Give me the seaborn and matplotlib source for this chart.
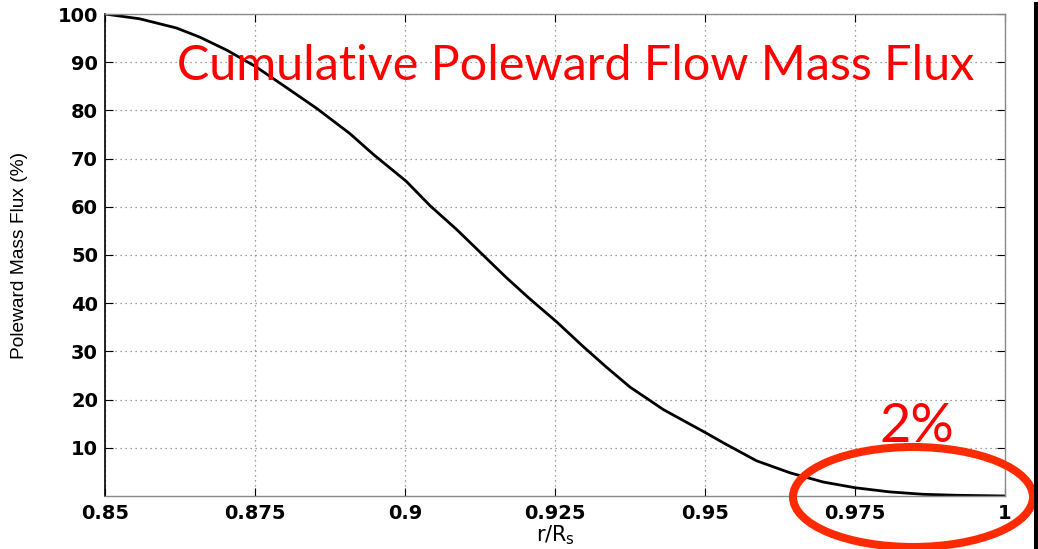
import numpy as np
import pandas as pd
import matplotlib
matplotlib.use("Agg")
import matplotlib.pyplot as plt
import seaborn as sns
from matplotlib import font_manager
from matplotlib.patches import Ellipse, Rectangle

# ---- data ----
r_over_rs = [0.8500, 0.8558, 0.8619, 0.8658, 0.8703, 0.8751, 0.8797, 0.8853,
             0.8908, 0.8947, 0.9002, 0.9042, 0.9086, 0.9125, 0.9169, 0.9208,
             0.9253, 0.9297, 0.9336, 0.9375, 0.9431, 0.9475, 0.9500, 0.9531,
             0.9586, 0.9642, 0.9697, 0.9751, 0.9808, 0.9864, 0.9919, 1.0000]
flux_pct = [100.0, 99.0, 97.1, 95.2, 92.5, 89.1, 85.2, 80.4,
            75.2, 70.9, 65.3, 60.2, 55.3, 50.6, 45.3, 40.9,
            36.1, 31.0, 26.7, 22.6, 17.9, 14.9, 13.2, 11.0,
            7.3, 4.8, 2.9, 1.7, 0.85, 0.35, 0.15, 0.0]
x_ticks = [0.85, 0.875, 0.9, 0.925, 0.95, 0.975, 1.0]
x_tick_labels = ["0.85", "0.875", "0.9", "0.925", "0.95", "0.975", "1"]
y_ticks = [10, 20, 30, 40, 50, 60, 70, 80, 90, 100]
title_text = "Cumulative Poleward Flow Mass Flux"
note_text = "2%"

df = pd.DataFrame({"r": r_over_rs, "flux": flux_pct})

sns.set_theme(style="white")
plt.rcParams["font.family"] = ["DejaVu Sans"]
plt.rcParams["text.color"] = "black"
plt.rcParams["axes.labelcolor"] = "black"

W, H = 1038, 549
fig = plt.figure(figsize=(W / 100, H / 100), dpi=100)
ax = fig.add_axes([105 / W, 1 - 496 / H, 900 / W, 482 / H])

sns.lineplot(data=df, x="r", y="flux", ax=ax, color="black", linewidth=2.0)
for ln in ax.get_lines():
    ln.set_solid_joinstyle("round")
    ln.set_solid_capstyle("round")

ax.set_xlim(0.85, 1.0)
ax.set_ylim(0, 100)
ax.set_xticks(x_ticks)
ax.set_xticklabels(x_tick_labels)
ax.set_yticks(y_ticks)
ax.grid(True, linestyle=(0, (1, 3)), color="#808080", linewidth=0.9)

ax.tick_params(axis="both", which="major", direction="in", length=6,
               width=0.8, color="black", labelsize=14, labelcolor="black",
               top=True, right=True, bottom=True, left=True)
ax.tick_params(axis="x", pad=6)
ax.tick_params(axis="y", pad=5)
for lab in ax.get_xticklabels() + ax.get_yticklabels():
    lab.set_fontweight("bold")

for side in ["top", "right", "bottom"]:
    ax.spines[side].set_color("#8a8a8a")
    ax.spines[side].set_linewidth(1.0)
ax.spines["left"].set_color("black")
ax.spines["left"].set_linewidth(1.2)

ax.set_xlabel(r"r/R$_\mathregular{s}$", fontsize=15, labelpad=0,
              color="black")

# y label: narrow font if available
ylab_family, ylab_size = "Liberation Sans", 13.8
for fam, size in [("Liberation Sans Narrow", 16.5),
                  ("DejaVu Sans Condensed", 14.0)]:
    try:
        font_manager.findfont(fam, fallback_to_default=False)
        ylab_family, ylab_size = fam, size
        break
    except Exception:
        pass
ax.set_ylabel("Poleward Mass Flux (%)", fontsize=ylab_size,
              family=ylab_family, color="black")
ax.yaxis.set_label_coords(-(105 - 28) / 900, (496 - 255) / 482)

# annotations in pixel coordinates of the figure
def px(x, y):
    return x / W, 1 - y / H

t = fig.text(*px(177, 80), title_text, color="red", family="Lato",
             fontsize=35, ha="left", va="baseline")
fig.canvas.draw()
ext = t.get_window_extent()
t.set_fontsize(35 * 798 / ext.width)

fig.text(*px(880, 442), note_text, color="red", family="Lato",
         fontsize=39, ha="left", va="baseline")

ell = Ellipse(px(913, 497), 240 / W, 100 / H, transform=fig.transFigure,
              fill=False, edgecolor="#ff2a00", linewidth=5.8, clip_on=False)
fig.patches.append(ell)

bar = Rectangle((1034 / W, 0), 4 / W, 1 - 2 / H, transform=fig.transFigure,
                facecolor="black", edgecolor="none")
fig.patches.append(bar)

fig.savefig("out.png", dpi=100)
